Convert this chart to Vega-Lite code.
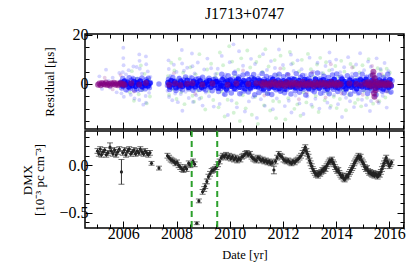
{
"$schema": "https://vega.github.io/schema/vega-lite/v6.json",
"padding": {"left": 20, "right": 4, "top": 4, "bottom": 4},
"spacing": -5,
"config": {
  "font": "Liberation Serif",
  "view": {"stroke": "#000", "strokeWidth": 1.5},
  "axis": {"domain": false, "grid": false, "labelFont": "Liberation Serif", "labelFontSize": 16, "labelColor": "#000", "titleFont": "Liberation Serif", "titleFontSize": 13, "titleFontWeight": "normal", "titleColor": "#000", "tickColor": "#000", "tickWidth": 1, "labelOverlap": false, "labelFlush": false, "zindex": 1, "labelPadding": 4}
},
"datasets": {
  "green": [
    {"t":2006.25,"r":-3.5},{"t":2006.32,"r":5.2},{"t":2006.4,"r":-6.8},{"t":2006.45,"r":-1.2},{"t":2006.5,"r":2.1},{"t":2006.58,"r":-4.2},{"t":2006.66,"r":7.5},{"t":2006.72,"r":-2.5},{"t":2006.8,"r":4.1},{"t":2006.88,"r":-7.9},{"t":2006.95,"r":1.8},{"t":2007.0,"r":-5.1},
    {"t":2007.68,"r":3.2},{"t":2007.72,"r":-4.5},{"t":2007.8,"r":8.6},{"t":2007.86,"r":-2.2},{"t":2007.92,"r":5.5},{"t":2008.0,"r":-6.1},{"t":2008.05,"r":1.5},{"t":2008.12,"r":10.2},{"t":2008.18,"r":-3.3},{"t":2008.25,"r":4.6},{"t":2008.3,"r":-8.2},{"t":2008.38,"r":2.4},{"t":2008.45,"r":-1.9},{"t":2008.52,"r":6.8},{"t":2008.6,"r":-4.8},{"t":2008.66,"r":-7.2},{"t":2008.72,"r":3.9},{"t":2008.8,"r":-2.7},{"t":2008.86,"r":12.1},{"t":2008.93,"r":-5.6},{"t":2009.0,"r":1.1},{"t":2009.08,"r":-10.4},{"t":2009.15,"r":5.9},{"t":2009.22,"r":-3.1},{"t":2009.3,"r":8.2},{"t":2009.38,"r":-6.5},{"t":2009.45,"r":2.8},
    {"t":2009.52,"r":4.2},{"t":2009.58,"r":-9.5},{"t":2009.63,"r":12.8},{"t":2009.69,"r":-3.1},{"t":2009.75,"r":7.6},{"t":2009.81,"r":-13.2},{"t":2009.86,"r":1.9},{"t":2009.92,"r":-6.4},{"t":2009.98,"r":15.3},{"t":2010.03,"r":-1.2},
    {"t":2010.09,"r":9.1},{"t":2010.15,"r":-11.7},{"t":2010.2,"r":3.3},{"t":2010.26,"r":-7.8},{"t":2010.32,"r":5.8},{"t":2010.38,"r":-15.1},{"t":2010.43,"r":10.4},{"t":2010.49,"r":-4.6},{"t":2010.55,"r":0.8},{"t":2010.6,"r":-9.9},
    {"t":2010.66,"r":13.6},{"t":2010.72,"r":-2.4},{"t":2010.77,"r":6.7},{"t":2010.83,"r":-12.5},{"t":2010.89,"r":2.6},{"t":2010.95,"r":-5.3},{"t":2011.0,"r":8.9},{"t":2011.06,"r":-16.2},{"t":2011.12,"r":11.2},{"t":2011.17,"r":-0.6},
    {"t":2011.23,"r":4.9},{"t":2011.29,"r":-8.7},{"t":2011.34,"r":14.1},{"t":2011.4,"r":-3.8},{"t":2011.46,"r":7.1},{"t":2011.52,"r":-10.8},{"t":2011.57,"r":1.3},{"t":2011.63,"r":-6.9},{"t":2011.69,"r":9.7},{"t":2011.74,"r":-13.9},
    {"t":2011.8,"r":3.6},{"t":2011.86,"r":-7.2},{"t":2011.91,"r":11.5},{"t":2011.97,"r":-2.9},{"t":2012.03,"r":6.3},{"t":2012.09,"r":-14.4},{"t":2012.14,"r":0.7},{"t":2012.2,"r":-5.8},{"t":2012.26,"r":13.0},{"t":2012.31,"r":-1.7},
    {"t":2012.37,"r":8.4},{"t":2012.43,"r":-10.1},{"t":2012.48,"r":2.2},{"t":2012.54,"r":-8.3},{"t":2012.6,"r":5.1},{"t":2012.66,"r":-12.9},{"t":2012.71,"r":9.8},{"t":2012.77,"r":-3.4},{"t":2012.83,"r":1.6},{"t":2012.88,"r":-7.5},
    {"t":2012.94,"r":12.2},{"t":2013.0,"r":-2.1},{"t":2013.05,"r":6.0},{"t":2013.11,"r":-9.3},{"t":2013.17,"r":3.0},{"t":2013.23,"r":-4.9},{"t":2013.28,"r":7.9},{"t":2013.34,"r":-11.4},{"t":2013.4,"r":10.6},{"t":2013.45,"r":-1.0},
    {"t":2013.51,"r":4.4},{"t":2013.57,"r":-6.6},{"t":2013.62,"r":8.8},{"t":2013.68,"r":-3.6},{"t":2013.74,"r":5.5},{"t":2013.8,"r":-8.9},{"t":2013.85,"r":1.0},{"t":2013.91,"r":-5.2},{"t":2013.97,"r":7.3},{"t":2014.02,"r":-9.8},
    {"t":2014.08,"r":2.9},{"t":2014.14,"r":-6.1},{"t":2014.19,"r":9.4},{"t":2014.25,"r":-2.6},{"t":2014.31,"r":5.0},{"t":2014.37,"r":-10.7},{"t":2014.42,"r":0.4},{"t":2014.48,"r":-4.4},{"t":2014.54,"r":8.1},{"t":2014.59,"r":-1.4},
    {"t":2014.65,"r":6.9},{"t":2014.71,"r":-7.7},{"t":2014.76,"r":2.0},{"t":2014.82,"r":-6.3},{"t":2014.88,"r":4.7},{"t":2014.94,"r":-9.1},{"t":2014.99,"r":7.6},{"t":2015.05,"r":-3.0},{"t":2015.11,"r":1.9},{"t":2015.16,"r":-5.6},
    {"t":2015.22,"r":10.1},{"t":2015.28,"r":-2.3},{"t":2015.33,"r":3.8},{"t":2015.39,"r":-8.0},{"t":2015.45,"r":2.5},{"t":2015.51,"r":-4.1},{"t":2015.56,"r":6.4},{"t":2015.62,"r":-7.0},{"t":2015.68,"r":5.6},{"t":2015.73,"r":-0.9},
    {"t":2015.79,"r":3.4},{"t":2015.85,"r":-5.5},{"t":2015.9,"r":6.2},{"t":2015.96,"r":-3.2},{"t":2016.02,"r":4.6}
  ],
  "blue": [
    {"t":2005.1,"r":3.1},{"t":2005.2,"r":-2.0},{"t":2005.35,"r":5.8},{"t":2005.45,"r":1.2},{"t":2005.5,"r":-1.5},{"t":2005.6,"r":2.5},{"t":2005.75,"r":-3.4},{"t":2005.85,"r":4.5},
    {"t":2006.0,"r":14.7},{"t":2006.0,"r":10.5},{"t":2006.01,"r":7.6},{"t":2006.02,"r":-5.2},{"t":2005.98,"r":4.8},{"t":2006.6,"r":12.0},{"t":2006.61,"r":9.4},{"t":2006.62,"r":6.2},{"t":2006.6,"r":-6.5},{"t":2006.85,"r":11.2},{"t":2006.86,"r":8.0},{"t":2006.84,"r":-4.9},{"t":2006.85,"r":-7.6},
    {"t":2005.93,"r":-3.8},{"t":2006.1,"r":3.9},{"t":2006.15,"r":-2.9},{"t":2006.2,"r":5.6},{"t":2006.28,"r":-4.4},{"t":2006.35,"r":2.8},{"t":2006.42,"r":-5.9},{"t":2006.5,"r":6.9},{"t":2006.55,"r":-3.0},{"t":2006.7,"r":4.2},{"t":2006.75,"r":-8.4},{"t":2006.92,"r":5.1},{"t":2006.97,"r":-3.6},{"t":2007.02,"r":2.9},{"t":2006.38,"r":7.1},
    {"t":2007.66,"r":-2.8},{"t":2007.7,"r":9.6},{"t":2007.71,"r":6.1},{"t":2007.72,"r":-5.3},{"t":2007.78,"r":3.4},{"t":2007.84,"r":-6.6},{"t":2007.9,"r":7.8},{"t":2007.95,"r":-3.9},{"t":2008.0,"r":4.9},{"t":2008.05,"r":-7.4},{"t":2008.1,"r":2.7},{"t":2008.16,"r":-4.1},{"t":2008.2,"r":13.8},{"t":2008.21,"r":8.3},{"t":2008.22,"r":-10.9},{"t":2008.28,"r":5.4},{"t":2008.34,"r":-3.2},{"t":2008.4,"r":6.6},{"t":2008.46,"r":-5.7},{"t":2008.52,"r":3.1},{"t":2008.58,"r":12.4},{"t":2008.6,"r":7.2},{"t":2008.62,"r":-7.3},{"t":2008.68,"r":4.3},{"t":2008.74,"r":-4.6},{"t":2008.8,"r":8.7},{"t":2008.86,"r":-6.0},{"t":2008.92,"r":2.4},{"t":2008.98,"r":-8.8},{"t":2009.04,"r":5.9},{"t":2009.1,"r":-3.5},{"t":2009.16,"r":10.3},{"t":2009.22,"r":-5.0},{"t":2009.3,"r":6.4},{"t":2009.4,"r":-9.2},{"t":2009.46,"r":4.0},
    {"t":2009.55,"r":6.2},{"t":2009.62,"r":-8.1},{"t":2009.7,"r":11.4},{"t":2009.77,"r":-4.3},{"t":2009.85,"r":3.9},{"t":2009.93,"r":-12.6},{"t":2010.0,"r":8.8},{"t":2010.07,"r":-6.7},{"t":2010.14,"r":16.1},{"t":2010.2,"r":5.2},{"t":2010.27,"r":-9.5},{"t":2010.35,"r":13.3},{"t":2010.42,"r":-3.7},{"t":2010.5,"r":7.4},{"t":2010.57,"r":-11.2},{"t":2010.65,"r":4.6},{"t":2010.72,"r":-7.1},{"t":2010.8,"r":10.2},{"t":2010.87,"r":-5.4},{"t":2010.95,"r":8.1},
    {"t":2011.02,"r":-13.8},{"t":2011.1,"r":3.5},{"t":2011.17,"r":-6.2},{"t":2011.25,"r":12.1},{"t":2011.32,"r":-8.9},{"t":2011.4,"r":5.7},{"t":2011.47,"r":-4.0},{"t":2011.55,"r":9.3},{"t":2011.62,"r":-10.3},{"t":2011.7,"r":6.5},{"t":2011.77,"r":-5.9},{"t":2011.85,"r":14.0},{"t":2011.92,"r":-3.3},{"t":2012.0,"r":7.7},{"t":2012.07,"r":-9.0},{"t":2012.15,"r":4.1},{"t":2012.22,"r":-6.8},{"t":2012.3,"r":11.9},{"t":2012.31,"r":8.0},{"t":2012.32,"r":-11.6},
    {"t":2012.4,"r":5.3},{"t":2012.47,"r":-4.7},{"t":2012.55,"r":9.6},{"t":2012.62,"r":-7.9},{"t":2012.7,"r":6.0},{"t":2012.77,"r":-12.2},{"t":2012.85,"r":3.7},{"t":2012.92,"r":-5.1},{"t":2013.0,"r":10.7},{"t":2013.07,"r":-8.4},{"t":2013.15,"r":5.0},{"t":2013.22,"r":-6.0},{"t":2013.3,"r":8.6},{"t":2013.37,"r":-10.0},{"t":2013.45,"r":4.4},{"t":2013.52,"r":-3.9},{"t":2013.6,"r":7.3},{"t":2013.67,"r":-7.6},{"t":2013.75,"r":12.8},{"t":2013.76,"r":9.1},
    {"t":2013.77,"r":-9.7},{"t":2013.85,"r":5.8},{"t":2013.92,"r":-4.5},{"t":2014.0,"r":9.9},{"t":2014.07,"r":-8.2},{"t":2014.15,"r":4.8},{"t":2014.22,"r":-13.4},{"t":2014.3,"r":6.8},{"t":2014.37,"r":-5.6},{"t":2014.45,"r":10.9},{"t":2014.52,"r":-7.0},{"t":2014.6,"r":4.2},{"t":2014.67,"r":-9.4},{"t":2014.75,"r":7.9},{"t":2014.82,"r":-4.2},{"t":2014.9,"r":12.5},{"t":2014.97,"r":-6.4},{"t":2015.05,"r":5.6},{"t":2015.12,"r":-8.6},{"t":2015.2,"r":9.1},
    {"t":2015.27,"r":-11.0},{"t":2015.3,"r":7.0},{"t":2015.31,"r":-6.9},{"t":2015.37,"r":4.7},{"t":2015.45,"r":-5.3},{"t":2015.52,"r":10.4},{"t":2015.6,"r":-7.7},{"t":2015.67,"r":6.1},{"t":2015.75,"r":-4.8},{"t":2015.82,"r":8.5},{"t":2015.9,"r":-9.6},{"t":2015.97,"r":5.2},{"t":2016.05,"r":-3.6}
  ],
  "core": [
    {"t":2005.9,"r":0.8},{"t":2005.94,"r":-1.6},{"t":2005.98,"r":2.2},{"t":2006.02,"r":-0.4},{"t":2006.06,"r":1.3},{"t":2006.1,"r":-2.4},{"t":2006.14,"r":0.2},{"t":2006.18,"r":-1.1},{"t":2006.22,"r":2.5},{"t":2006.26,"r":-1.8},{"t":2006.3,"r":1.5},{"t":2006.34,"r":-0.7},{"t":2006.38,"r":2.0},{"t":2006.42,"r":-2.5},{"t":2006.46,"r":0.5},{"t":2006.5,"r":-1.9},{"t":2006.54,"r":1.8},{"t":2006.58,"r":-0.2},{"t":2006.62,"r":1.0},{"t":2006.66,"r":-2.2},{"t":2006.7,"r":2.4},{"t":2006.74,"r":-1.3},{"t":2006.78,"r":0.3},{"t":2006.82,"r":-2.0},{"t":2006.86,"r":1.7},{"t":2006.9,"r":-0.9},{"t":2006.94,"r":2.3},{"t":2006.98,"r":-1.5},{"t":2007.02,"r":0.6},
    {"t":2007.34,"r":0.0},
    {"t":2007.66,"r":-0.6},{"t":2007.7,"r":1.9},{"t":2007.74,"r":-2.3},{"t":2007.78,"r":0.9},{"t":2007.82,"r":-1.4},{"t":2007.86,"r":2.6},{"t":2007.9,"r":-0.2},{"t":2007.94,"r":1.2},{"t":2007.98,"r":-2.7},{"t":2008.02,"r":0.4},{"t":2008.06,"r":-1.0},{"t":2008.1,"r":2.2},{"t":2008.14,"r":-1.7},{"t":2008.18,"r":0.7},{"t":2008.22,"r":-2.4},{"t":2008.26,"r":1.6},{"t":2008.3,"r":-0.5},{"t":2008.34,"r":2.8},{"t":2008.38,"r":-1.2},{"t":2008.42,"r":0.1},{"t":2008.46,"r":-2.0},{"t":2008.5,"r":1.4},{"t":2008.54,"r":-0.8},{"t":2008.58,"r":2.4},{"t":2008.62,"r":-2.6},{"t":2008.66,"r":0.6},{"t":2008.7,"r":-1.5},{"t":2008.74,"r":1.9},{"t":2008.78,"r":-0.3},{"t":2008.82,"r":2.1},{"t":2008.86,"r":-2.2},{"t":2008.9,"r":1.0},{"t":2008.94,"r":-1.1},{"t":2008.98,"r":2.7},{"t":2009.02,"r":-1.9},{"t":2009.06,"r":0.3},{"t":2009.1,"r":-2.5},{"t":2009.14,"r":1.5},{"t":2009.18,"r":-0.6},{"t":2009.22,"r":2.3},{"t":2009.26,"r":-1.4},{"t":2009.3,"r":0.8},{"t":2009.34,"r":-2.8},{"t":2009.38,"r":1.8},{"t":2009.42,"r":-0.1},{"t":2009.46,"r":2.0},{"t":2009.5,"r":-1.6},
    {"t":2009.54,"r":1.2},{"t":2009.58,"r":-3.1},{"t":2009.62,"r":0.4},{"t":2009.66,"r":-1.8},{"t":2009.7,"r":3.9},{"t":2009.74,"r":-0.7},{"t":2009.78,"r":2.4},{"t":2009.82,"r":-4.2},{"t":2009.86,"r":0.9},{"t":2009.9,"r":-2.6},
    {"t":2009.94,"r":3.3},{"t":2009.98,"r":-1.1},{"t":2010.02,"r":0.1},{"t":2010.06,"r":-3.7},{"t":2010.1,"r":2.0},{"t":2010.14,"r":-0.3},{"t":2010.18,"r":4.4},{"t":2010.22,"r":-2.2},{"t":2010.26,"r":1.6},{"t":2010.3,"r":-0.9},
    {"t":2010.34,"r":2.8},{"t":2010.38,"r":-4.0},{"t":2010.42,"r":0.6},{"t":2010.46,"r":-1.5},{"t":2010.5,"r":3.6},{"t":2010.54,"r":-2.9},{"t":2010.58,"r":1.1},{"t":2010.62,"r":-0.2},{"t":2010.66,"r":4.1},{"t":2010.7,"r":-3.3},
    {"t":2010.74,"r":0.3},{"t":2010.78,"r":-2.0},{"t":2010.82,"r":2.6},{"t":2010.86,"r":-1.2},{"t":2010.9,"r":3.8},{"t":2010.94,"r":-4.4},{"t":2010.98,"r":1.4},{"t":2011.02,"r":-0.5},{"t":2011.06,"r":2.1},{"t":2011.1,"r":-3.5},
    {"t":2011.14,"r":0.8},{"t":2011.18,"r":-1.7},{"t":2011.22,"r":4.3},{"t":2011.26,"r":-2.7},{"t":2011.3,"r":1.9},{"t":2011.34,"r":-0.1},{"t":2011.38,"r":3.0},{"t":2011.42,"r":-3.9},{"t":2011.46,"r":0.5},{"t":2011.5,"r":-1.3},
    {"t":2011.54,"r":2.5},{"t":2011.58,"r":-4.3},{"t":2011.62,"r":1.7},{"t":2011.66,"r":-0.8},{"t":2011.7,"r":3.5},{"t":2011.74,"r":-2.4},{"t":2011.78,"r":0.2},{"t":2011.82,"r":-1.9},{"t":2011.86,"r":4.0},{"t":2011.9,"r":-3.0},
    {"t":2011.94,"r":1.0},{"t":2011.98,"r":-0.4},{"t":2012.02,"r":2.9},{"t":2012.06,"r":-3.6},{"t":2012.1,"r":0.7},{"t":2012.14,"r":-2.3},{"t":2012.18,"r":3.7},{"t":2012.22,"r":-1.0},{"t":2012.26,"r":1.5},{"t":2012.3,"r":-4.1},
    {"t":2012.34,"r":2.2},{"t":2012.38,"r":-0.6},{"t":2012.42,"r":0.0},{"t":2012.46,"r":-2.8},{"t":2012.5,"r":4.2},{"t":2012.54,"r":-1.6},{"t":2012.58,"r":1.3},{"t":2012.62,"r":-3.4},{"t":2012.66,"r":2.7},{"t":2012.7,"r":-0.2},
    {"t":2012.74,"r":3.4},{"t":2012.78,"r":-2.1},{"t":2012.82,"r":0.9},{"t":2012.86,"r":-4.5},{"t":2012.9,"r":1.8},{"t":2012.94,"r":-1.4},{"t":2012.98,"r":2.3},{"t":2013.02,"r":-0.7},{"t":2013.06,"r":3.9},{"t":2013.1,"r":-2.5},
    {"t":2013.14,"r":0.6},{"t":2013.18,"r":-3.2},{"t":2013.22,"r":1.6},{"t":2013.26,"r":-0.3},{"t":2013.3,"r":4.5},{"t":2013.34,"r":-1.8},{"t":2013.38,"r":2.0},{"t":2013.42,"r":-3.8},{"t":2013.46,"r":0.4},{"t":2013.5,"r":-1.1},
    {"t":2013.54,"r":3.1},{"t":2013.58,"r":-2.6},{"t":2013.62,"r":1.2},{"t":2013.66,"r":-0.9},{"t":2013.7,"r":2.6},{"t":2013.74,"r":-4.0},{"t":2013.78,"r":0.3},{"t":2013.82,"r":-1.5},{"t":2013.86,"r":3.6},{"t":2013.9,"r":-2.2},
    {"t":2013.94,"r":1.9},{"t":2013.98,"r":-0.5},{"t":2014.02,"r":4.1},{"t":2014.06,"r":-3.1},{"t":2014.1,"r":0.8},{"t":2014.14,"r":-2.0},{"t":2014.18,"r":2.8},{"t":2014.22,"r":-1.3},{"t":2014.26,"r":1.1},{"t":2014.3,"r":-3.7},
    {"t":2014.34,"r":0.2},{"t":2014.38,"r":-2.4},{"t":2014.42,"r":3.3},{"t":2014.46,"r":-0.8},{"t":2014.5,"r":1.7},{"t":2014.54,"r":-4.2},{"t":2014.58,"r":2.4},{"t":2014.62,"r":-1.0},{"t":2014.66,"r":0.5},{"t":2014.7,"r":-2.9},
    {"t":2014.74,"r":3.8},{"t":2014.78,"r":-1.7},{"t":2014.82,"r":1.4},{"t":2014.86,"r":-3.5},{"t":2014.9,"r":2.1},{"t":2014.94,"r":-0.4},{"t":2014.98,"r":4.0},{"t":2015.02,"r":-2.3},{"t":2015.06,"r":0.9},{"t":2015.1,"r":-1.2},
    {"t":2015.14,"r":2.7},{"t":2015.18,"r":-3.9},{"t":2015.22,"r":0.1},{"t":2015.26,"r":-1.6},{"t":2015.3,"r":3.2},{"t":2015.34,"r":-2.7},{"t":2015.38,"r":1.5},{"t":2015.42,"r":-0.6},{"t":2015.46,"r":2.2},{"t":2015.5,"r":-4.4},
    {"t":2015.54,"r":1.0},{"t":2015.58,"r":-2.1},{"t":2015.62,"r":3.5},{"t":2015.66,"r":-1.4},{"t":2015.7,"r":0.7},{"t":2015.74,"r":-3.0},{"t":2015.78,"r":2.5},{"t":2015.82,"r":-0.2},{"t":2015.86,"r":1.8},{"t":2015.9,"r":-2.6},
    {"t":2015.94,"r":3.9},{"t":2015.98,"r":-1.1},{"t":2016.02,"r":0.4},{"t":2016.06,"r":-3.3},{"t":2016.1,"r":1.3}
  ],
  "core2": [
    {"t":2005.92,"r":0.4},{"t":2005.98,"r":-0.8},{"t":2006.04,"r":1.1},{"t":2006.1,"r":-0.2},{"t":2006.16,"r":0.7},{"t":2006.22,"r":-1.2},{"t":2006.28,"r":0.1},{"t":2006.34,"r":-0.6},{"t":2006.4,"r":1.0},{"t":2006.46,"r":-0.9},{"t":2006.52,"r":0.5},{"t":2006.58,"r":-0.3},{"t":2006.64,"r":1.2},{"t":2006.7,"r":-1.0},{"t":2006.76,"r":0.2},{"t":2006.82,"r":-0.5},{"t":2006.88,"r":0.9},{"t":2006.94,"r":-0.7},{"t":2007.0,"r":0.3},
    {"t":2007.68,"r":0.6},{"t":2007.74,"r":-1.1},{"t":2007.8,"r":1.4},{"t":2007.86,"r":-0.3},{"t":2007.92,"r":0.9},{"t":2007.98,"r":-1.5},{"t":2008.04,"r":0.2},{"t":2008.1,"r":-0.7},{"t":2008.16,"r":1.2},{"t":2008.22,"r":-0.9},{"t":2008.28,"r":0.4},{"t":2008.34,"r":-0.2},{"t":2008.4,"r":1.5},{"t":2008.46,"r":-1.3},{"t":2008.52,"r":0.0},{"t":2008.58,"r":-0.6},{"t":2008.64,"r":1.1},{"t":2008.7,"r":-1.0},{"t":2008.76,"r":0.5},{"t":2008.82,"r":-0.4},{"t":2008.88,"r":1.3},{"t":2008.94,"r":-1.4},{"t":2009.0,"r":0.3},{"t":2009.06,"r":-0.8},{"t":2009.12,"r":0.8},{"t":2009.18,"r":-0.1},{"t":2009.24,"r":1.4},{"t":2009.3,"r":-1.2},{"t":2009.36,"r":0.6},{"t":2009.42,"r":-0.5},{"t":2009.48,"r":1.0},
    {"t":2009.52,"r":0.9},{"t":2009.57,"r":-1.6},{"t":2009.62,"r":0.2},{"t":2009.67,"r":-0.7},{"t":2009.72,"r":1.8},{"t":2009.77,"r":-1.1},{"t":2009.82,"r":0.5},{"t":2009.87,"r":-2.0},{"t":2009.92,"r":1.3},{"t":2009.97,"r":-0.3},
    {"t":2010.02,"r":1.6},{"t":2010.07,"r":-0.9},{"t":2010.12,"r":0.0},{"t":2010.17,"r":-1.8},{"t":2010.22,"r":1.1},{"t":2010.27,"r":-0.4},{"t":2010.32,"r":2.0},{"t":2010.37,"r":-1.3},{"t":2010.42,"r":0.7},{"t":2010.47,"r":-0.1},
    {"t":2010.52,"r":1.4},{"t":2010.57,"r":-1.9},{"t":2010.62,"r":0.3},{"t":2010.67,"r":-0.8},{"t":2010.72,"r":1.7},{"t":2010.77,"r":-1.5},{"t":2010.82,"r":0.6},{"t":2010.87,"r":-0.2},{"t":2010.92,"r":1.9},{"t":2010.97,"r":-1.0},
    {"t":2011.02,"r":0.1},{"t":2011.07,"r":-1.2},{"t":2011.12,"r":1.5},{"t":2011.17,"r":-0.6},{"t":2011.22,"r":1.0},{"t":2011.27,"r":-2.0},{"t":2011.32,"r":0.8},{"t":2011.37,"r":-0.3},{"t":2011.42,"r":1.2},{"t":2011.47,"r":-1.7},
    {"t":2011.52,"r":0.4},{"t":2011.57,"r":-0.9},{"t":2011.62,"r":1.9},{"t":2011.67,"r":-1.4},{"t":2011.72,"r":0.9},{"t":2011.77,"r":-0.1},{"t":2011.82,"r":1.6},{"t":2011.87,"r":-1.8},{"t":2011.92,"r":0.2},{"t":2011.97,"r":-0.7},
    {"t":2012.02,"r":1.3},{"t":2012.07,"r":-2.0},{"t":2012.12,"r":0.8},{"t":2012.17,"r":-0.5},{"t":2012.22,"r":1.7},{"t":2012.27,"r":-1.2},{"t":2012.32,"r":0.1},{"t":2012.37,"r":-1.0},{"t":2012.42,"r":1.9},{"t":2012.47,"r":-1.5},
    {"t":2012.52,"r":0.5},{"t":2012.57,"r":-0.2},{"t":2012.62,"r":1.4},{"t":2012.67,"r":-1.7},{"t":2012.72,"r":0.3},{"t":2012.77,"r":-1.1},{"t":2012.82,"r":1.8},{"t":2012.87,"r":-0.6},{"t":2012.92,"r":0.7},{"t":2012.97,"r":-1.9},
    {"t":2013.02,"r":1.1},{"t":2013.07,"r":-0.4},{"t":2013.12,"r":0.0},{"t":2013.17,"r":-1.4},{"t":2013.22,"r":2.0},{"t":2013.27,"r":-0.8},{"t":2013.32,"r":0.6},{"t":2013.37,"r":-1.6},{"t":2013.42,"r":1.3},{"t":2013.47,"r":-0.1},
    {"t":2013.52,"r":1.7},{"t":2013.57,"r":-1.0},{"t":2013.62,"r":0.4},{"t":2013.67,"r":-2.0},{"t":2013.72,"r":0.9},{"t":2013.77,"r":-0.7},{"t":2013.82,"r":1.1},{"t":2013.87,"r":-0.3},{"t":2013.92,"r":1.8},{"t":2013.97,"r":-1.2},
    {"t":2014.02,"r":0.3},{"t":2014.07,"r":-1.5},{"t":2014.12,"r":0.8},{"t":2014.17,"r":-0.2},{"t":2014.22,"r":2.0},{"t":2014.27,"r":-0.9},{"t":2014.32,"r":1.0},{"t":2014.37,"r":-1.8},{"t":2014.42,"r":0.2},{"t":2014.47,"r":-0.5},
    {"t":2014.52,"r":1.5},{"t":2014.57,"r":-1.3},{"t":2014.62,"r":0.6},{"t":2014.67,"r":-0.4},{"t":2014.72,"r":1.2},{"t":2014.77,"r":-1.9},{"t":2014.82,"r":0.1},{"t":2014.87,"r":-0.7},{"t":2014.92,"r":1.7},{"t":2014.97,"r":-1.1},
    {"t":2015.02,"r":0.9},{"t":2015.07,"r":-0.3},{"t":2015.12,"r":1.9},{"t":2015.17,"r":-1.5},{"t":2015.22,"r":0.4},{"t":2015.27,"r":-1.0},{"t":2015.32,"r":1.3},{"t":2015.37,"r":-0.6},{"t":2015.42,"r":0.5},{"t":2015.47,"r":-1.7},
    {"t":2015.52,"r":0.1},{"t":2015.57,"r":-1.2},{"t":2015.62,"r":1.6},{"t":2015.67,"r":-0.4},{"t":2015.72,"r":0.8},{"t":2015.77,"r":-2.0},{"t":2015.82,"r":1.1},{"t":2015.87,"r":-0.5},{"t":2015.92,"r":0.2},{"t":2015.97,"r":-1.4},
    {"t":2016.02,"r":1.8},{"t":2016.07,"r":-0.8}
  ],
  "purple": [
    {"t":2005.05,"r":-0.3},{"t":2005.1,"r":0.2},{"t":2005.15,"r":-0.5},{"t":2005.2,"r":0.4},{"t":2005.25,"r":0.0},{"t":2005.3,"r":-0.2},{"t":2005.35,"r":0.6},{"t":2005.4,"r":-0.4},{"t":2005.45,"r":0.1},{"t":2005.5,"r":-0.6},{"t":2005.55,"r":0.3},{"t":2005.6,"r":-0.1},{"t":2005.65,"r":0.5},{"t":2005.7,"r":-0.3},{"t":2005.75,"r":0.2},{"t":2005.8,"r":-0.5},{"t":2005.85,"r":0.0},{"t":2005.9,"r":0.4},{"t":2005.95,"r":-0.2},{"t":2006.0,"r":0.1},{"t":2006.05,"r":-0.4},
    {"t":2006.3,"r":0.3},{"t":2006.6,"r":-0.2},{"t":2006.85,"r":0.4},{"t":2007.72,"r":-0.3},{"t":2007.95,"r":0.2},{"t":2008.15,"r":-0.4},{"t":2008.4,"r":0.1},{"t":2008.6,"r":0.3},{"t":2008.97,"r":-0.2},{"t":2009.35,"r":0.2},{"t":2009.92,"r":-0.3},{"t":2010.25,"r":0.2},{"t":2010.7,"r":0.0},{"t":2011.0,"r":0.3},
    {"t":2011.18,"r":0.3},{"t":2011.24,"r":-0.5},{"t":2011.3,"r":0.6},{"t":2011.36,"r":-0.2},{"t":2011.42,"r":0.1},{"t":2011.48,"r":-0.7},{"t":2011.54,"r":0.4},{"t":2011.6,"r":-0.1},{"t":2011.66,"r":0.8},{"t":2011.72,"r":-0.4},
    {"t":2011.78,"r":0.2},{"t":2011.84,"r":-0.6},{"t":2011.9,"r":0.5},{"t":2011.96,"r":-0.3},{"t":2012.02,"r":0.0},{"t":2012.08,"r":-0.8},{"t":2012.14,"r":0.7},{"t":2012.2,"r":-0.2},{"t":2012.26,"r":0.3},{"t":2012.32,"r":-0.5},
    {"t":2012.38,"r":0.6},{"t":2012.44,"r":-0.1},{"t":2012.5,"r":0.4},{"t":2012.56,"r":-0.7},{"t":2012.62,"r":0.1},{"t":2012.68,"r":-0.3},{"t":2012.74,"r":0.8},{"t":2012.8,"r":-0.4},{"t":2012.86,"r":0.2},{"t":2012.92,"r":-0.6},
    {"t":2012.98,"r":0.5},{"t":2013.04,"r":-0.2},{"t":2013.1,"r":0.0},{"t":2013.16,"r":-0.8},{"t":2013.22,"r":0.7},{"t":2013.28,"r":-0.3},{"t":2013.34,"r":0.3},{"t":2013.4,"r":-0.5},{"t":2013.46,"r":0.6},{"t":2013.52,"r":-0.1},
    {"t":2013.58,"r":0.4},{"t":2013.64,"r":-0.7},{"t":2013.7,"r":0.1},{"t":2013.76,"r":-0.4},{"t":2013.82,"r":0.8},{"t":2013.88,"r":-0.2},{"t":2013.94,"r":0.2},{"t":2014.0,"r":-0.6},{"t":2014.06,"r":0.5},{"t":2014.12,"r":-0.3},{"t":2014.18,"r":0.0},
    {"t":2014.5,"r":0.2},{"t":2014.76,"r":0.0},{"t":2014.95,"r":-0.3},
    {"t":2015.1,"r":0.4},{"t":2015.15,"r":-0.3},{"t":2015.2,"r":0.7},{"t":2015.25,"r":-0.6},{"t":2015.3,"r":0.2},{"t":2015.35,"r":-0.9},{"t":2015.4,"r":1.1},{"t":2015.45,"r":-0.4},{"t":2015.5,"r":0.8},{"t":2015.55,"r":-0.7},{"t":2015.6,"r":0.3},{"t":2015.65,"r":-0.5},{"t":2015.7,"r":0.6},{"t":2015.75,"r":-0.2},{"t":2015.8,"r":0.1},{"t":2015.85,"r":-0.6},{"t":2015.9,"r":0.5},{"t":2015.95,"r":-0.3},{"t":2016.0,"r":0.2},{"t":2016.05,"r":-0.4},
    {"t":2015.38,"r":3.5},{"t":2015.42,"r":-3.8},{"t":2015.45,"r":2.4},{"t":2015.48,"r":-2.6},{"t":2015.4,"r":5.0},{"t":2015.44,"r":-5.2}
  ],
  "faint": [
    {"t":2005.3,"r":2.5},{"t":2005.6,"r":-2.2},{"t":2005.9,"r":3.6},{"t":2006.4,"r":-3.1},{"t":2007.9,"r":4.4},{"t":2008.7,"r":-4.0},{"t":2010.5,"r":5.5},{"t":2011.3,"r":-4.7},{"t":2011.9,"r":6.3},{"t":2012.6,"r":-6.2},{"t":2013.1,"r":4.8},{"t":2013.6,"r":-5.5},{"t":2013.8,"r":8.0},{"t":2014.2,"r":-3.9},{"t":2014.6,"r":6.7},{"t":2015.0,"r":-4.4},{"t":2015.35,"r":7.3},{"t":2015.55,"r":-7.0},{"t":2015.7,"r":4.1},{"t":2015.9,"r":-3.2},{"t":2012.9,"r":-3.6},{"t":2012.2,"r":3.9}
  ],
  "dmx": [
    {"t":2005.03,"v":0.15,"e":0.025},{"t":2005.08,"v":0.12,"e":0.025},{"t":2005.13,"v":0.17,"e":0.025},{"t":2005.18,"v":0.11,"e":0.025},{"t":2005.24,"v":0.14,"e":0.025},{"t":2005.3,"v":0.16,"e":0.025},{"t":2005.36,"v":0.11,"e":0.025},{"t":2005.42,"v":0.13,"e":0.025},{"t":2005.5,"v":0.19,"e":0.045},{"t":2005.55,"v":0.15,"e":0.025},{"t":2005.61,"v":0.12,"e":0.025},{"t":2005.67,"v":0.16,"e":0.025},{"t":2005.73,"v":0.11,"e":0.025},{"t":2005.79,"v":0.14,"e":0.025},{"t":2005.85,"v":0.17,"e":0.025},{"t":2005.93,"v":-0.07,"e":0.13},{"t":2005.98,"v":0.13,"e":0.025},{"t":2006.04,"v":0.16,"e":0.025},{"t":2006.1,"v":0.11,"e":0.025},{"t":2006.16,"v":0.15,"e":0.025},{"t":2006.22,"v":0.17,"e":0.025},{"t":2006.28,"v":0.12,"e":0.025},{"t":2006.34,"v":0.14,"e":0.025},{"t":2006.4,"v":0.16,"e":0.025},{"t":2006.46,"v":0.12,"e":0.025},{"t":2006.52,"v":0.15,"e":0.025},{"t":2006.58,"v":0.13,"e":0.025},{"t":2006.64,"v":0.17,"e":0.025},{"t":2006.7,"v":0.14,"e":0.025},{"t":2006.76,"v":0.12,"e":0.025},{"t":2006.82,"v":0.15,"e":0.025},{"t":2006.88,"v":0.13,"e":0.025},{"t":2006.94,"v":0.11,"e":0.025},{"t":2007.0,"v":0.13,"e":0.025},
    {"t":2007.06,"v":0.02,"e":0.02},{"t":2007.34,"v":-0.03,"e":0.02},{"t":2007.66,"v":0.1,"e":0.025},{"t":2007.72,"v":0.08,"e":0.025},{"t":2007.78,"v":0.06,"e":0.025},{"t":2007.84,"v":0.05,"e":0.025},{"t":2007.9,"v":0.04,"e":0.025},{"t":2007.96,"v":0.02,"e":0.025},{"t":2008.02,"v":0.03,"e":0.025},{"t":2008.08,"v":0.0,"e":0.025},{"t":2008.14,"v":-0.02,"e":0.025},{"t":2008.2,"v":-0.04,"e":0.025},{"t":2008.26,"v":-0.05,"e":0.025},{"t":2008.32,"v":-0.02,"e":0.025},{"t":2008.38,"v":-0.04,"e":0.025},{"t":2008.46,"v":0.02,"e":0.025},{"t":2008.52,"v":0.0,"e":0.025},{"t":2008.62,"v":0.04,"e":0.025},{"t":2008.68,"v":0.01,"e":0.025},
    {"t":2008.76,"v":-0.61,"e":0.015},{"t":2008.84,"v":-0.375,"e":0.02},{"t":2008.98,"v":-0.28,"e":0.025},{"t":2009.04,"v":-0.25,"e":0.025},{"t":2009.08,"v":-0.22,"e":0.025},{"t":2009.14,"v":-0.17,"e":0.025},{"t":2009.2,"v":-0.12,"e":0.025},{"t":2009.26,"v":-0.09,"e":0.025},{"t":2009.32,"v":-0.06,"e":0.025},{"t":2009.38,"v":-0.05,"e":0.025},{"t":2009.44,"v":-0.04,"e":0.025},{"t":2009.5,"v":-0.02,"e":0.025},{"t":2009.56,"v":0.01,"e":0.025},{"t":2009.62,"v":0.04,"e":0.025},{"t":2009.68,"v":0.08,"e":0.025},{"t":2009.74,"v":0.1,"e":0.025},{"t":2009.8,"v":0.09,"e":0.025},{"t":2009.86,"v":0.11,"e":0.025},{"t":2009.92,"v":0.08,"e":0.025},{"t":2009.98,"v":0.1,"e":0.025},
    {"t":2010.04,"v":0.07,"e":0.025},{"t":2010.1,"v":0.09,"e":0.025},{"t":2010.16,"v":0.06,"e":0.025},{"t":2010.22,"v":0.08,"e":0.025},{"t":2010.28,"v":0.05,"e":0.025},{"t":2010.34,"v":0.07,"e":0.025},{"t":2010.4,"v":0.06,"e":0.025},{"t":2010.46,"v":0.09,"e":0.025},{"t":2010.52,"v":0.1,"e":0.025},{"t":2010.58,"v":0.12,"e":0.025},{"t":2010.64,"v":0.13,"e":0.025},{"t":2010.7,"v":0.11,"e":0.025},{"t":2010.76,"v":0.12,"e":0.025},{"t":2010.82,"v":0.09,"e":0.025},{"t":2010.88,"v":0.07,"e":0.025},{"t":2010.94,"v":0.06,"e":0.025},{"t":2011.0,"v":0.05,"e":0.025},{"t":2011.06,"v":0.08,"e":0.025},{"t":2011.12,"v":0.07,"e":0.025},{"t":2011.18,"v":0.05,"e":0.025},
    {"t":2011.24,"v":0.06,"e":0.025},{"t":2011.3,"v":0.04,"e":0.025},{"t":2011.36,"v":0.05,"e":0.025},{"t":2011.42,"v":0.03,"e":0.025},{"t":2011.48,"v":0.04,"e":0.025},{"t":2011.54,"v":0.02,"e":0.025},{"t":2011.6,"v":0.03,"e":0.025},{"t":2011.66,"v":-0.05,"e":0.04},{"t":2011.72,"v":0.04,"e":0.025},{"t":2011.78,"v":0.08,"e":0.025},{"t":2011.84,"v":0.12,"e":0.025},{"t":2011.9,"v":0.1,"e":0.025},{"t":2011.96,"v":0.09,"e":0.025},{"t":2012.02,"v":0.06,"e":0.025},{"t":2012.08,"v":0.05,"e":0.025},{"t":2012.14,"v":0.04,"e":0.025},{"t":2012.2,"v":0.05,"e":0.025},{"t":2012.26,"v":0.03,"e":0.025},{"t":2012.32,"v":0.02,"e":0.025},{"t":2012.38,"v":0.04,"e":0.025},
    {"t":2012.44,"v":0.03,"e":0.025},{"t":2012.5,"v":0.05,"e":0.025},{"t":2012.56,"v":0.06,"e":0.025},{"t":2012.62,"v":0.08,"e":0.025},{"t":2012.68,"v":0.1,"e":0.025},{"t":2012.74,"v":0.13,"e":0.025},{"t":2012.8,"v":0.16,"e":0.025},{"t":2012.84,"v":0.19,"e":0.025},{"t":2012.88,"v":0.15,"e":0.025},{"t":2012.92,"v":0.12,"e":0.025},{"t":2012.96,"v":0.09,"e":0.025},{"t":2013.0,"v":0.05,"e":0.025},{"t":2013.04,"v":0.02,"e":0.025},{"t":2013.08,"v":-0.01,"e":0.025},{"t":2013.12,"v":-0.04,"e":0.025},{"t":2013.16,"v":-0.06,"e":0.025},{"t":2013.2,"v":-0.08,"e":0.025},{"t":2013.24,"v":-0.1,"e":0.025},{"t":2013.28,"v":-0.09,"e":0.025},{"t":2013.32,"v":-0.11,"e":0.025},
    {"t":2013.36,"v":-0.08,"e":0.025},{"t":2013.4,"v":-0.09,"e":0.025},{"t":2013.44,"v":-0.07,"e":0.025},{"t":2013.48,"v":-0.05,"e":0.025},{"t":2013.52,"v":-0.06,"e":0.025},{"t":2013.56,"v":-0.03,"e":0.025},{"t":2013.6,"v":-0.04,"e":0.025},{"t":2013.64,"v":-0.01,"e":0.025},{"t":2013.68,"v":0.01,"e":0.025},{"t":2013.72,"v":0.03,"e":0.025},{"t":2013.76,"v":0.05,"e":0.025},{"t":2013.8,"v":0.04,"e":0.025},{"t":2013.84,"v":0.06,"e":0.025},{"t":2013.88,"v":0.03,"e":0.025},{"t":2013.92,"v":0.01,"e":0.025},{"t":2013.96,"v":-0.02,"e":0.025},{"t":2014.0,"v":-0.04,"e":0.025},{"t":2014.04,"v":-0.06,"e":0.025},{"t":2014.08,"v":-0.05,"e":0.025},{"t":2014.12,"v":-0.08,"e":0.025},
    {"t":2014.16,"v":-0.1,"e":0.025},{"t":2014.2,"v":-0.12,"e":0.025},{"t":2014.24,"v":-0.11,"e":0.025},{"t":2014.28,"v":-0.14,"e":0.025},{"t":2014.32,"v":-0.15,"e":0.025},{"t":2014.36,"v":-0.13,"e":0.025},{"t":2014.4,"v":-0.11,"e":0.025},{"t":2014.44,"v":-0.12,"e":0.025},{"t":2014.48,"v":-0.09,"e":0.025},{"t":2014.52,"v":-0.07,"e":0.025},{"t":2014.56,"v":-0.05,"e":0.025},{"t":2014.6,"v":-0.03,"e":0.025},{"t":2014.64,"v":-0.01,"e":0.025},{"t":2014.68,"v":0.02,"e":0.025},{"t":2014.72,"v":0.04,"e":0.025},{"t":2014.76,"v":0.06,"e":0.025},{"t":2014.8,"v":0.08,"e":0.025},{"t":2014.84,"v":0.1,"e":0.025},{"t":2014.88,"v":0.07,"e":0.025},{"t":2014.92,"v":0.09,"e":0.025},
    {"t":2014.96,"v":0.05,"e":0.025},{"t":2015.0,"v":0.03,"e":0.025},{"t":2015.04,"v":0.01,"e":0.025},{"t":2015.08,"v":-0.02,"e":0.025},{"t":2015.12,"v":-0.04,"e":0.025},{"t":2015.16,"v":-0.03,"e":0.025},{"t":2015.2,"v":-0.06,"e":0.025},{"t":2015.24,"v":-0.08,"e":0.025},{"t":2015.28,"v":-0.07,"e":0.025},{"t":2015.32,"v":-0.09,"e":0.025},{"t":2015.36,"v":-0.1,"e":0.025},{"t":2015.4,"v":-0.08,"e":0.025},{"t":2015.44,"v":-0.11,"e":0.025},{"t":2015.48,"v":-0.09,"e":0.025},{"t":2015.52,"v":-0.1,"e":0.025},{"t":2015.56,"v":-0.12,"e":0.025},{"t":2015.6,"v":-0.09,"e":0.025},{"t":2015.64,"v":-0.1,"e":0.025},{"t":2015.68,"v":-0.07,"e":0.025},{"t":2015.72,"v":-0.04,"e":0.025},
    {"t":2015.76,"v":-0.01,"e":0.025},{"t":2015.8,"v":0.02,"e":0.025},{"t":2015.84,"v":0.05,"e":0.025},{"t":2015.88,"v":0.08,"e":0.025},{"t":2015.92,"v":0.04,"e":0.025},{"t":2015.96,"v":0.02,"e":0.025},{"t":2016.0,"v":-0.01,"e":0.025},{"t":2016.04,"v":0.01,"e":0.025},{"t":2016.08,"v":0.03,"e":0.025}
  ],
  "lines": [{"t":2008.57},{"t":2009.53}]
},
"vconcat": [
  {
    "width": 319, "height": 95,
    "title": {"text": "J1713+0747", "frame": "group", "anchor": "middle", "fontSize": 16, "fontWeight": "normal", "font": "Liberation Serif", "color": "#000", "offset": 5},
    "layer": [
      {
        "encoding": {
          "x": {"field": "t", "type": "quantitative", "scale": {"domain": [2004.56, 2016.55], "nice": false, "zero": false},
                "axis": {"orient": "bottom", "title": null, "labels": false, "minExtent": 0, "maxExtent": 0, "labelPadding": 0, "values": [2005,2005.5,2006,2006.5,2007,2007.5,2008,2008.5,2009,2009.5,2010,2010.5,2011,2011.5,2012,2012.5,2013,2013.5,2014,2014.5,2015,2015.5,2016,2016.5],
                         "tickSize": {"condition": {"test": "datum.value % 2 === 0", "value": -7}, "value": -4}}},
          "y": {"field": "r", "type": "quantitative", "scale": {"domain": [-18.3, 20.3], "nice": false, "zero": false},
                "axis": {"orient": "left", "title": "Residual [μs]", "titleX": -29, "minExtent": 40, "maxExtent": 40, "values": [-15,-10,-5,0,5,10,15,20],
                         "labelExpr": "datum.value % 20 === 0 ? format(datum.value, 'd') : ''",
                         "tickSize": {"condition": {"test": "datum.value % 20 === 0", "value": -7}, "value": -4}}}
        },
        "layer": [
          {"data": {"name": "green"}, "mark": {"type": "circle", "clip": true, "color": "#00b400", "opacity": 0.17, "size": 15}},
          {"data": {"name": "blue"}, "mark": {"type": "circle", "clip": true, "color": "#0000ff", "opacity": 0.17, "size": 15}},
          {"data": {"name": "core"}, "mark": {"type": "circle", "clip": true, "color": "#0000ff", "opacity": 0.4, "size": 30}},
          {"data": {"name": "core2"}, "mark": {"type": "circle", "clip": true, "color": "#0000ff", "opacity": 0.75, "size": 32}},
          {"data": {"name": "faint"}, "mark": {"type": "circle", "clip": true, "color": "#800080", "opacity": 0.2, "size": 15}},
          {"data": {"name": "purple"}, "mark": {"type": "circle", "clip": true, "color": "#800080", "opacity": 0.6, "size": 36}}
        ]
      },
      {
        "data": {"values": [{"t": 2010, "r": 0}]},
        "mark": {"type": "point", "opacity": 0},
        "encoding": {
          "x": {"field": "t", "type": "quantitative", "scale": {"domain": [2004.56, 2016.55], "nice": false, "zero": false},
                "axis": {"orient": "top", "title": null, "labels": false, "minExtent": 0, "maxExtent": 0, "labelPadding": 0, "values": [2005,2005.5,2006,2006.5,2007,2007.5,2008,2008.5,2009,2009.5,2010,2010.5,2011,2011.5,2012,2012.5,2013,2013.5,2014,2014.5,2015,2015.5,2016,2016.5],
                         "tickSize": {"condition": {"test": "datum.value % 2 === 0", "value": -7}, "value": -4}}},
          "y": {"field": "r", "type": "quantitative", "scale": {"domain": [-18.3, 20.3], "nice": false, "zero": false},
                "axis": {"orient": "right", "title": null, "labels": false, "minExtent": 0, "maxExtent": 0, "labelPadding": 0, "values": [-15,-10,-5,0,5,10,15,20],
                         "tickSize": {"condition": {"test": "datum.value % 20 === 0", "value": -7}, "value": -4}}}
        }
      }
    ],
    "resolve": {"axis": {"x": "independent", "y": "independent"}}
  },
  {
    "width": 319, "height": 97,
    "layer": [
      {
        "data": {"name": "dmx"},
        "encoding": {
          "x": {"field": "t", "type": "quantitative", "scale": {"domain": [2004.56, 2016.55], "nice": false, "zero": false},
                "axis": {"orient": "bottom", "title": "Date [yr]", "titleFontSize": 12.5, "titlePadding": 4, "values": [2005,2005.5,2006,2006.5,2007,2007.5,2008,2008.5,2009,2009.5,2010,2010.5,2011,2011.5,2012,2012.5,2013,2013.5,2014,2014.5,2015,2015.5,2016,2016.5],
                         "labelExpr": "datum.value % 2 === 0 ? format(datum.value, 'd') : ''",
                         "tickSize": {"condition": {"test": "datum.value % 2 === 0", "value": -7}, "value": -4}}},
          "y": {"field": "v", "type": "quantitative", "scale": {"domain": [-0.66, 0.36], "nice": false, "zero": false},
                "axis": {"orient": "left", "title": ["DMX", "[10⁻³ pc cm⁻³]"], "titleX": -51, "titleLineHeight": 12, "minExtent": 40, "maxExtent": 40, "values": [-0.6,-0.5,-0.4,-0.3,-0.2,-0.1,0,0.1,0.2,0.3],
                         "labelExpr": "abs(datum.value * 2 - round(datum.value * 2)) < 0.001 ? format(datum.value, '.1f') : ''",
                         "tickSize": {"condition": {"test": "abs(datum.value * 2 - round(datum.value * 2)) < 0.001", "value": -7}, "value": -4}}}
        },
        "layer": [
          {"mark": {"type": "errorbar", "ticks": {"size": 6}, "color": "#333", "thickness": 1}, "encoding": {"yError": {"field": "e"}}},
          {"mark": {"type": "circle", "size": 10, "color": "#222", "opacity": 1}}
        ]
      },
      {
        "data": {"name": "lines"},
        "mark": {"type": "rule", "color": "#2ca02c", "strokeDash": [6, 4], "strokeWidth": 2},
        "encoding": {"x": {"field": "t", "type": "quantitative", "scale": {"domain": [2004.56, 2016.55], "nice": false, "zero": false}, "axis": null}}
      },
      {
        "data": {"values": [{"t": 2010, "v": 0}]},
        "mark": {"type": "point", "opacity": 0},
        "encoding": {
          "x": {"field": "t", "type": "quantitative", "scale": {"domain": [2004.56, 2016.55], "nice": false, "zero": false},
                "axis": {"orient": "top", "title": null, "labels": false, "minExtent": 0, "maxExtent": 0, "labelPadding": 0, "values": [2005,2005.5,2006,2006.5,2007,2007.5,2008,2008.5,2009,2009.5,2010,2010.5,2011,2011.5,2012,2012.5,2013,2013.5,2014,2014.5,2015,2015.5,2016,2016.5],
                         "tickSize": {"condition": {"test": "datum.value % 2 === 0", "value": -7}, "value": -4}}},
          "y": {"field": "v", "type": "quantitative", "scale": {"domain": [-0.66, 0.36], "nice": false, "zero": false},
                "axis": {"orient": "right", "title": null, "labels": false, "minExtent": 0, "maxExtent": 0, "labelPadding": 0, "values": [-0.6,-0.5,-0.4,-0.3,-0.2,-0.1,0,0.1,0.2,0.3],
                         "tickSize": {"condition": {"test": "abs(datum.value * 2 - round(datum.value * 2)) < 0.001", "value": -7}, "value": -4}}}
        }
      }
    ],
    "resolve": {"axis": {"x": "independent", "y": "independent"}}
  }
]
}
